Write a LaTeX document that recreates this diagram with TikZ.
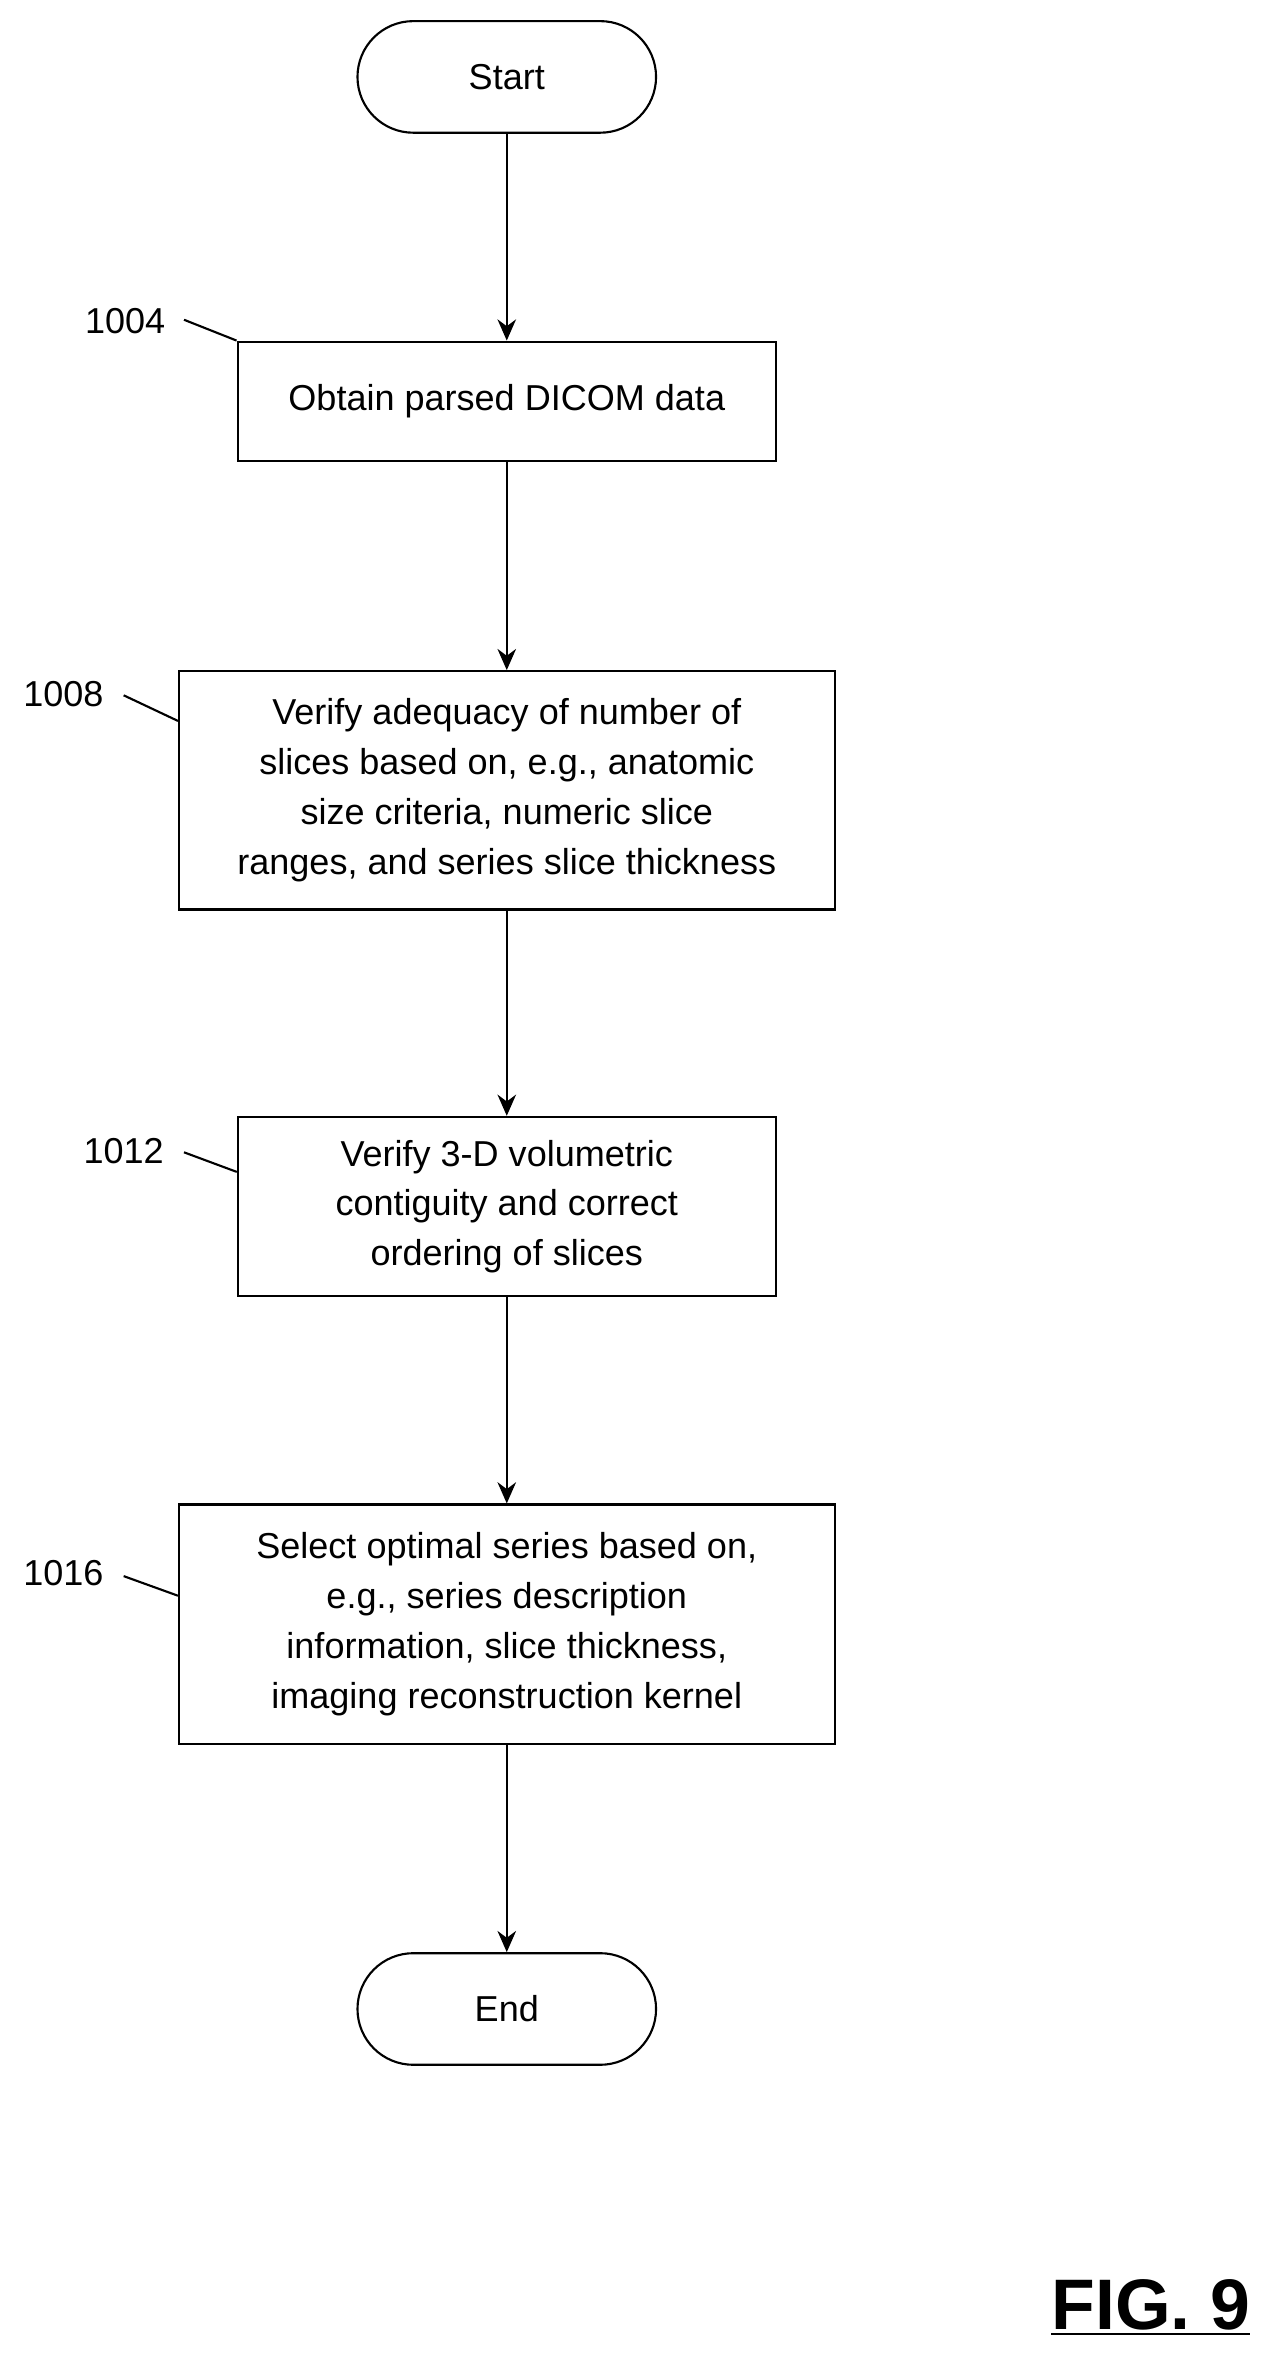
\documentclass[tikz,border=0pt]{standalone}
\usepackage{fontspec}
\setmainfont{Liberation Sans}
\usetikzlibrary{arrows.meta}

\tikzset{
    procbox/.style={draw, thick, align=center, inner sep=0pt, font=\fontsize{13.6}{18.8}\selectfont},
    term/.style={draw, thick, rounded corners=0.74cm, minimum width=3.96cm, minimum height=1.48cm, font=\fontsize{13.6}{18.8}\selectfont},
    flow/.style={-{Stealth[length=8pt,width=7pt]}, thick},
    tag/.style={font=\fontsize{13.6}{18.8}\selectfont},
}

\begin{document}
\begin{tikzpicture}[x=0.02cm, y=-0.02cm]
        \useasboundingbox (0,0) rectangle (850,1578);

        \node[term] (start) at (336,51) {Start};
        \node[procbox, minimum width=7.14cm, minimum height=1.58cm] (obtain) at (336,266) {Obtain parsed DICOM data};
        \node[procbox, minimum width=8.7cm, minimum height=3.16cm] (adequacy) at (336,524) {Verify adequacy of number of\\slices based on, e.g., anatomic\\size criteria, numeric slice\\ranges, and series slice thickness};
        \node[procbox, minimum width=7.14cm, minimum height=2.38cm] (contig) at (336,800) {Verify 3-D volumetric\\contiguity and correct\\ordering of slices};
        \node[procbox, minimum width=8.7cm, minimum height=3.18cm] (select) at (336,1077) {Select optimal series based on,\\e.g., series description\\information, slice thickness,\\imaging reconstruction kernel};
        \node[term] (end) at (336,1332) {End};

        \draw[flow] (start) -- (obtain);
        \draw[flow] (obtain) -- (adequacy);
        \draw[flow] (adequacy) -- (contig);
        \draw[flow] (contig) -- (select);
        \draw[flow] (select) -- (end);

        % reference numerals
        \node[tag] (t1004) at (83,213) {1004};
        \draw[thick] (122,212) -- (obtain.north west);
        \node[tag] (t1008) at (42,460) {1008};
        \draw[thick] (82,461) -- (118,478);
        \node[tag] (t1012) at (82,763) {1012};
        \draw[thick] (122,764) -- (157,777);
        \node[tag] (t1016) at (42,1043) {1016};
        \draw[thick] (82,1045) -- (118,1058);

        \node[font=\fontsize{27}{30}\selectfont\bfseries] (fig) at (763,1530) {\underline{FIG. 9}};
    \end{tikzpicture}
\end{document}
